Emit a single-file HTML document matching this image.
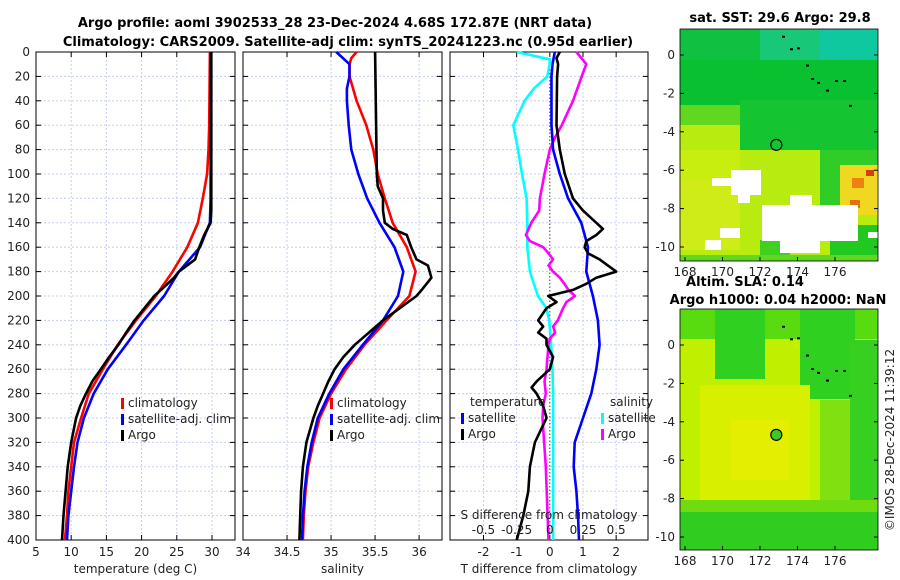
<!DOCTYPE html>
<html><head><meta charset="utf-8"><style>
body{margin:0;background:#fff;}
svg{display:block;font-family:"DejaVu Sans","Liberation Sans",sans-serif;}
.t{font-size:12px;fill:#222}
.b{font-size:13px;font-weight:bold;fill:#000}
</style></head><body>
<svg id="fig" width="900" height="580" viewBox="0 0 900 580">
<text class="b" x="335" y="27" text-anchor="middle">Argo profile: aoml 3902533_28 23-Dec-2024 4.68S 172.87E (NRT data)</text>
<text class="b" x="348" y="46" text-anchor="middle">Climatology: CARS2009. Satellite-adj clim: synTS_20241223.nc (0.95d earlier)</text>
<g id="maps"></g>
<g id="panels"></g>
<text class="t" x="0" y="0" transform="translate(894,440) rotate(-90)" text-anchor="middle">©IMOS 28-Dec-2024 11:39:12</text>
</svg>
<script>
// ---- data ----
const depthTicks=[0,20,40,60,80,100,120,140,160,180,200,220,240,260,280,300,320,340,360,380,400];
const tTicks=[5,10,15,20,25,30];
const sTicks=[34,34.5,35,35.5,36];
const dTTicks=[-2,-1,0,1,2];
const dSTicks=["-0.5","-0.25","0","0.25","0.5"];
const tClimD=[0,60,80,100,120,140,160,180,200,220,240,260,280,300,320,340,360,380,400];
const tClimV=[29.7,29.6,29.5,29.3,28.7,28.0,26.5,24.4,22.0,19.2,16.6,14.5,12.5,11.4,10.4,10.0,9.6,9.4,9.1];
const tSatD=[0,120,140,160,180,200,220,240,260,280,300,320,340,360,380,400];
const tSatV=[29.8,29.8,29.7,28.3,25.3,23.2,20.3,17.8,15.2,13.2,11.8,10.9,10.4,10.0,9.6,9.4];
const tArgoD=[0,130,140,150,160,170,180,185,190,200,210,220,230,240,250,260,270,280,290,300,320,340,360,380,400];
const tArgoV=[29.9,29.9,29.8,28.9,28.2,27.6,25.3,24.6,23.7,21.8,20.4,19.0,17.8,16.7,15.4,14.2,13.0,12.1,11.3,10.7,10.0,9.5,9.2,8.9,8.7];
const sClimD=[0,5,10,20,40,60,80,100,120,140,160,180,200,220,240,260,280,300,320,340,360,380,400];
const sClimV=[35.29,35.23,35.21,35.21,35.29,35.40,35.48,35.53,35.61,35.70,35.86,35.96,35.89,35.63,35.38,35.17,35.0,34.87,34.80,34.74,34.71,34.69,34.68];
const sSatD=[0,10,20,30,40,60,80,100,120,140,160,180,200,220,240,260,280,300,320,340,360,380,400];
const sSatV=[35.06,35.21,35.21,35.18,35.18,35.20,35.23,35.31,35.41,35.55,35.72,35.82,35.76,35.59,35.36,35.14,34.98,34.85,34.78,34.73,34.70,34.68,34.67];
const sArgoD=[0,100,110,120,130,140,145,150,160,170,175,185,195,200,210,220,240,250,260,270,280,290,300,320,340,360,380,400];
const sArgoV=[35.5,35.52,35.53,35.59,35.59,35.61,35.70,35.86,35.91,35.97,36.10,36.14,36.03,35.97,35.78,35.59,35.27,35.14,35.04,34.97,34.91,34.85,34.80,34.72,34.68,34.66,34.65,34.64];
const dTSatD=[0,10,20,60,80,100,120,140,160,180,200,220,240,260,280,300,320,340,360,380,400];
const dTSatV=[0.15,0.08,0.05,0.05,0.1,0.3,0.55,0.95,1.15,1.1,1.3,1.45,1.5,1.4,1.25,1.0,0.75,0.72,0.8,0.85,0.88];
const dTArgoD=[0,5,10,20,60,80,100,120,130,140,145,150,155,160,165,170,180,185,190,195,200,205,210,220,225,230,235,240,250,260,270,275,280,290,300,320,340,360,380,400];
const dTArgoV=[0.3,0.2,0.25,0.22,0.2,0.3,0.45,0.7,1.0,1.4,1.6,1.4,1.1,1.05,1.15,1.5,2.0,1.4,1.1,0.7,-0.05,0.2,-0.1,-0.35,-0.2,-0.35,-0.1,-0.1,0.1,0.0,-0.4,-0.55,-0.4,-0.2,-0.1,-0.45,-0.6,-0.65,-0.8,-1.0];
const dSSatD=[0,6,10,20,30,40,60,80,100,120,140,160,180,200,210,220,240,260,280,300,340,400];
const dSSatV=[-0.25,0,0,-0.02,-0.12,-0.19,-0.275,-0.24,-0.21,-0.175,-0.17,-0.17,-0.15,-0.09,-0.025,-0.005,0.01,0.02,0.025,0.025,0.025,0.025];
const dSArgoD=[0,10,20,40,60,70,80,100,120,130,140,150,155,160,165,170,175,180,185,190,195,200,205,210,220,225,230,235,240,260,270,280,290,300,340,400];
const dSArgoV=[0.2,0.275,0.24,0.175,0.09,0.04,0,-0.04,-0.075,-0.08,-0.14,-0.18,-0.15,-0.05,-0.01,0.025,-0.01,0.025,0.075,0.11,0.14,0.19,0.125,0.1,0.06,0.025,0.04,0,-0.01,-0.025,-0.04,-0.03,-0.05,-0.055,-0.03,-0.01];
const mapLonTicks=[168,170,172,174,176];
const mapLatTicks=[0,-2,-4,-6,-8,-10];
const argoLon=172.87, argoLat=-4.68;

// ---- helpers ----
const NS="http://www.w3.org/2000/svg";
function mk(tag,attrs,parent){const e=document.createElementNS(NS,tag);for(const k in attrs)e.setAttribute(k,attrs[k]);parent.appendChild(e);return e;}
const Y0=52,Y1=540;
const yD=d=>Y0+(Y1-Y0)*d/400;
const panels=document.getElementById('panels');
const P=[
 {x0:36,x1:235,lo:5,hi:33.27,ticks:tTicks,lab:"temperature (deg C)",name:"temperature-panel"},
 {x0:243,x1:442,lo:34,hi:36.26,ticks:sTicks,lab:"salinity",name:"salinity-panel"},
 {x0:450,x1:648,lo:-3.01,hi:2.96,ticks:dTTicks,lab:"T difference from climatology",name:"difference-panel"}
];
function xs(p,v){return p.x0+(v-p.lo)/(p.hi-p.lo)*(p.x1-p.x0);}
P.forEach((p,i)=>{
 const g=mk('g',{},panels);
 
 
 p.ticks.forEach(t=>{const x=xs(p,t);
  mk('line',{x1:x,x2:x,y1:Y0,y2:Y1,stroke:(i==2&&t==0)?'none':'#c8cff0','stroke-width':1,'stroke-dasharray':'2,2'},g);
  mk('line',{x1:x,x2:x,y1:Y1,y2:Y1-5,stroke:'#000'},g);mk('line',{x1:x,x2:x,y1:Y0,y2:Y0+5,stroke:'#000'},g);
  const tx=mk('text',{x:x,y:Y1+16,'text-anchor':'middle',class:'t'},g);tx.textContent=t;
  
  
 });
 depthTicks.forEach(d=>{const y=yD(d);
  if(d>0&&d<400)mk('line',{x1:p.x0,x2:p.x1,y1:y,y2:y,stroke:'#c8cff0','stroke-dasharray':'2,2'},g);
  mk('line',{x1:p.x0,x2:p.x0+5,y1:y,y2:y,stroke:'#000'},g);mk('line',{x1:p.x1,x2:p.x1-5,y1:y,y2:y,stroke:'#000'},g);
  if(i==0){const tx=mk('text',{x:30,y:y+4,'text-anchor':'end',class:'t'},g);tx.textContent=d;
   
   }
 });
 mk('rect',{x:p.x0,y:Y0,width:p.x1-p.x0,height:Y1-Y0,fill:'none',stroke:'#000'},g);
 const al=mk('text',{x:(p.x0+p.x1)/2,y:Y1+33,'text-anchor':'middle',class:'t'},g);al.textContent=p.lab;
 
 
});
mk('line',{x1:xs(P[2],0),x2:xs(P[2],0),y1:Y0,y2:Y1,stroke:'#354a20','stroke-dasharray':'1.5,2'},panels);

function line(p,D,V,col,name,scale){
 const pts=D.map((d,k)=>xs(p,V[k]*(scale||1)).toFixed(1)+','+yD(d).toFixed(1)).join(' ');
 const pl=mk('polyline',{points:pts,fill:'none',stroke:col,'stroke-width':2.6,'stroke-linejoin':'round'},panels);
 
 
}
line(P[0],tClimD,tClimV,'#ff0000','temp-climatology-line');
line(P[0],tSatD,tSatV,'#0000ff','temp-satellite-line');
line(P[0],tArgoD,tArgoV,'#000','temp-argo-line');
line(P[1],sClimD,sClimV,'#ff0000','sal-climatology-line');
line(P[1],sSatD,sSatV,'#0000ff','sal-satellite-line');
line(P[1],sArgoD,sArgoV,'#000','sal-argo-line');
line(P[2],dSSatD,dSSatV,'#00ffff','dsal-satellite-line',4);
line(P[2],dSArgoD,dSArgoV,'#ff00ff','dsal-argo-line',4);
line(P[2],dTSatD,dTSatV,'#0000ff','dtemp-satellite-line');
line(P[2],dTArgoD,dTArgoV,'#000','dtemp-argo-line');

function legend(x,y,col,txt,name){
 mk('rect',{x:x-2,y:y-9,width:3,height:11,fill:col},panels);
 const t=mk('text',{x:x+5,y:y,class:'t'},panels);t.textContent=txt;
 
 
}
legend(123,407,'#ff0000','climatology','legend-climatology');
legend(123,423,'#0000ff','satellite-adj. clim','legend-satellite');
legend(123,439,'#000','Argo','legend-argo');
legend(332,407,'#ff0000','climatology','legend-climatology-2');
legend(332,423,'#0000ff','satellite-adj. clim','legend-satellite-2');
legend(332,439,'#000','Argo','legend-argo-2');
const lt=mk('text',{x:470,y:406,class:'t'},panels);lt.textContent='temperature';
const ls=mk('text',{x:610,y:406,class:'t'},panels);ls.textContent='salinity';
legend(463,422,'#0000ff','satellite','legend-dtemp-satellite');
legend(463,438,'#000','Argo','legend-dtemp-argo');
legend(603,422,'#00ffff','satellite','legend-dsal-satellite');
legend(603,438,'#ff00ff','Argo','legend-dsal-argo');
const sd=mk('text',{x:549,y:519,'text-anchor':'middle',class:'t'},panels);sd.textContent='S difference from climatology';


dSTicks.forEach((s,k)=>{const t=mk('text',{x:xs(P[2],dTTicks[k]),y:534,'text-anchor':'middle',class:'t'},panels);t.textContent=s;
 
 });

// ---- maps ----
const maps=document.getElementById('maps');
function lonX(l){return 685+(l-168)*18.75;}
const tY=l=>55-l*19.2, bY=l=>345-l*19.2;
const rects1=[
 [680,29,198,232,'#b8ec10'],
 [680,29,198,80,'#10c040'],[760,29,118,40,'#18c878'],[820,29,58,30,'#10c8a0'],
 [680,60,198,50,'#08c030'],[740,100,138,50,'#14c430'],[680,105,60,20,'#60d820'],
 [820,150,58,60,'#30cc28'],[680,150,60,30,'#c8ee10'],[680,180,60,70,'#d0ec18'],
 [840,165,38,50,'#f0d820'],[852,178,12,10,'#f08010'],[866,170,8,6,'#d04010'],[850,200,10,8,'#e07010'],
 [830,225,48,36,'#20c820'],[760,240,30,21,'#40d020'],[680,255,198,6,'#60d820'],
 [731,170,30,25,'#ffffff'],[712,178,20,8,'#ffffff'],[738,195,12,8,'#ffffff'],
 [762,205,96,36,'#ffffff'],[790,195,22,14,'#ffffff'],[780,241,40,12,'#ffffff'],[720,228,20,10,'#ffffff'],[705,240,16,10,'#ffffff'],[868,232,10,6,'#ffffff']
];
rects1.forEach(r=>mk('rect',{x:r[0],y:r[1],width:r[2],height:r[3],fill:r[4]},maps));
const rects2=[
 [680,309,198,241,'#bef000'],
 [680,309,198,30,'#58dc10'],[715,309,50,70,'#30d020'],[800,309,55,90,'#30d020'],[850,340,28,160,'#38d020'],
 [700,385,110,115,'#d8f000'],[730,420,60,60,'#e4ee00'],[680,500,198,14,'#70dc10'],[680,512,198,38,'#30cc20'],
 [820,400,30,100,'#80e010']
];
rects2.forEach(r=>mk('rect',{x:r[0],y:r[1],width:r[2],height:r[3],fill:r[4]},maps));
[[29,261,tY,'sst-map'],[309,550,bY,'sla-map']].forEach(m=>{
 const [ya,yb,fy,nm]=m;
 const g=mk('g',{},maps);
 
 
 mk('rect',{x:680,y:ya,width:198,height:yb-ya,fill:'none',stroke:'#000','stroke-width':0.8},g);
 mapLonTicks.forEach(l=>{const x=lonX(l);mk('line',{x1:x,x2:x,y1:yb,y2:yb-4,stroke:'#000'},g);
  const t=mk('text',{x:x,y:yb+15,'text-anchor':'middle',class:'t'},g);t.textContent=l;});
 mapLatTicks.forEach(l=>{const y=fy(l);mk('line',{x1:680,x2:684,y1:y,y2:y,stroke:'#000'},g);mk('line',{x1:878,x2:874,y1:y,y2:y,stroke:'#000'},g);
  const t=mk('text',{x:675,y:y+4,'text-anchor':'end',class:'t'},g);t.textContent=l;});
 [[782,fy(1.0)],[790,fy(0.35)],[797,fy(0.4)],[806,fy(-0.5)],[811,fy(-1.2)],[817,fy(-1.4)],[826,fy(-1.8)],[835,fy(-1.3)],[843,fy(-1.3)],[849,fy(-2.6)]].forEach(p=>mk('rect',{x:p[0],y:p[1],width:3,height:2,fill:'#000'},g));
 const c=mk('circle',{cx:lonX(argoLon),cy:fy(argoLat),r:5.5,fill:nm=='sla-map'?'#40c828':'none',stroke:'#000','stroke-width':1.2},g);
 
 
});
const m1=mk('text',{x:780,y:22,'text-anchor':'middle',class:'b'},maps);m1.textContent='sat. SST: 29.6 Argo: 29.8';
const m2=mk('text',{x:745,y:286,'text-anchor':'middle',class:'b'},maps);m2.textContent='Altim. SLA: 0.14';
const m3=mk('text',{x:778,y:304,'text-anchor':'middle',class:'b'},maps);m3.textContent='Argo h1000: 0.04 h2000: NaN';
[m1,m2,m3].forEach(m=>{
});
</script>
</body></html>
